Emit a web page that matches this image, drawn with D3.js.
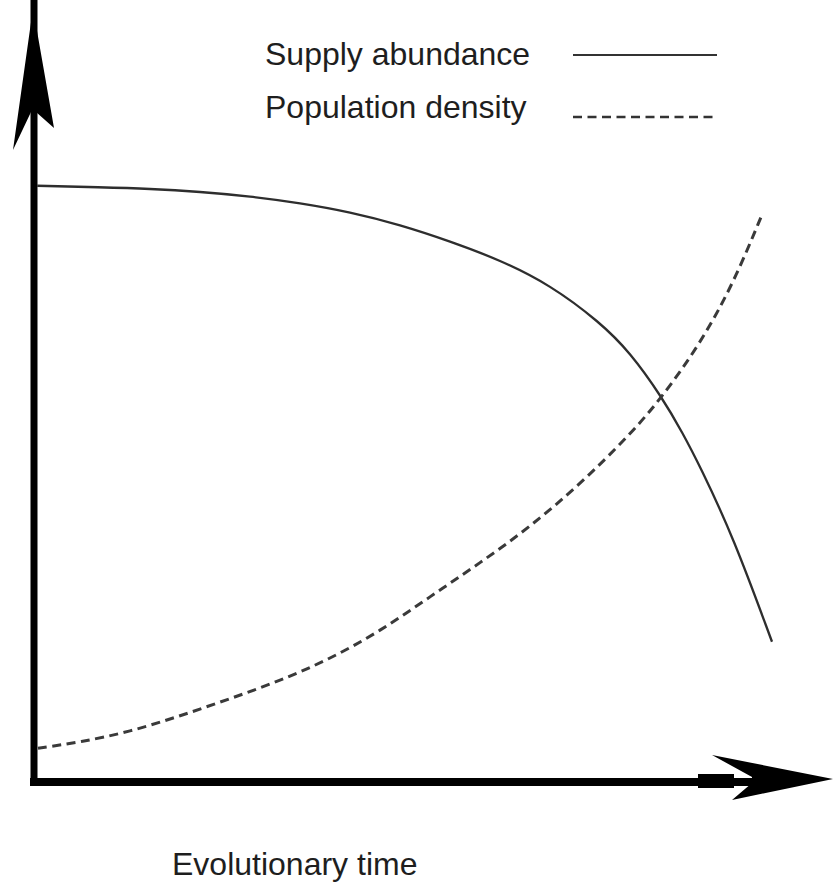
<!DOCTYPE html>
<html>
<head>
<meta charset="utf-8">
<script src="https://cdn.jsdelivr.net/npm/d3@7"></script>
<style>
  html, body { margin: 0; padding: 0; background: #fff; }
  svg { display: block; }
  text { font-family: "Liberation Sans", Arial, sans-serif; fill: #1e1e1e; }
</style>
</head>
<body>
<svg width="835" height="883"></svg>
<script>
(function () {
  'use strict';

  // ---- data (time 0..100, level 0..100, arbitrary units) ----
  const supplyTime  = [0.4, 8.25, 14.5, 20.75, 27, 33.25, 39.5, 45.75, 52, 58.25, 64.5, 70.75, 74.5, 78.5, 81.1, 83.25, 87.4, 92.25];
  const supplyLevel = [79.5, 79.3, 79.1, 78.7, 78.1, 77.2, 76, 74.3, 72.1, 69.6, 66.3, 61.3, 57.3, 51.3, 46.5, 42.1, 32.7, 18.7];

  const popTime  = [0.5, 5.75, 12, 18.25, 24.5, 30.75, 37, 43.25, 49.5, 55.75, 62, 68.25, 74.5, 78.5, 83.25, 87.4, 91.1];
  const popLevel = [4.5, 5.3, 6.7, 8.8, 11.1, 13.5, 16.4, 20.1, 24.7, 29.2, 34, 39.7, 46.3, 51.3, 58.4, 66.4, 75.9];

  const seriesNames = ["Supply abundance", "Population density"];
  const xLabel = "Evolutionary time";

  const svg = d3.select("svg");

  // scales
  const x = d3.scaleLinear().domain([0, 100]).range([34, 834]);
  const y = d3.scaleLinear().domain([0, 100]).range([782, 32]);

  // ---- axes (no ticks, just heavy lines with arrowheads) ----
  const xAxis = d3.axisBottom(x).ticks(0).tickSizeOuter(0);
  const yAxis = d3.axisLeft(y).ticks(0).tickSizeOuter(0);

  const gx = svg.append("g")
    .attr("transform", `translate(0,${y(0)})`)
    .call(xAxis);
  gx.select(".domain")
    .attr("stroke", "#000")
    .attr("stroke-width", 8)
    .attr("d", `M${x(0) - 4},0H${x(91)}`);

  const gy = svg.append("g")
    .attr("transform", `translate(${x(0)},0)`)
    .call(yAxis);
  gy.select(".domain")
    .attr("stroke", "#000")
    .attr("stroke-width", 7)
    .attr("d", `M0,${y(0) + 4}V${y(100) - 40}`);

  // arrowheads
  const ax = x(0), ay = y(0);
  svg.append("path")
    .attr("fill", "#000")
    .attr("d", `M${ax - 1},8 L${ax + 20},128 L${ax + 2},112 L${ax - 3},112 L${ax - 21},150 Z`);
  svg.append("rect")
    .attr("x", 698).attr("y", ay - 8).attr("width", 36).attr("height", 14)
    .attr("fill", "#000");
  svg.append("path")
    .attr("fill", "#000")
    .attr("d", `M833,${ay - 3} L712,${ay - 27} L752,${ay - 5} L752,${ay + 1} L732,${ay + 18} Z`);

  // ---- curves ----
  const line = d3.line()
    .x(d => x(d[0]))
    .y(d => y(d[1]))
    .curve(d3.curveBasis);

  const supply = d3.zip(supplyTime, supplyLevel);
  const pop = d3.zip(popTime, popLevel);

  svg.append("path")
    .datum(supply)
    .attr("fill", "none")
    .attr("stroke", "#2e2e2e")
    .attr("stroke-width", 2.3)
    .attr("d", line);

  svg.append("path")
    .datum(pop)
    .attr("fill", "none")
    .attr("stroke", "#3a3a3a")
    .attr("stroke-width", 3)
    .attr("stroke-dasharray", "9,5.5")
    .attr("d", line);

  // ---- legend ----
  const legend = svg.append("g");
  const rows = [
    {name: seriesNames[0], base: 65, lineY: 55, dash: null, sw: 2},
    {name: seriesNames[1], base: 118, lineY: 117, dash: "9,5.5", sw: 2.6}
  ];
  rows.forEach(r => {
    legend.append("text")
      .attr("x", 265)
      .attr("y", r.base)
      .attr("font-size", 32)
      .text(r.name);
    legend.append("line")
      .attr("x1", 573).attr("x2", 717)
      .attr("y1", r.lineY).attr("y2", r.lineY)
      .attr("stroke", "#333")
      .attr("stroke-width", r.sw)
      .attr("stroke-dasharray", r.dash);
  });

  // x axis title
  svg.append("text")
    .attr("x", 172)
    .attr("y", 875)
    .attr("font-size", 32)
    .text(xLabel);
}());
</script>
</body>
</html>
